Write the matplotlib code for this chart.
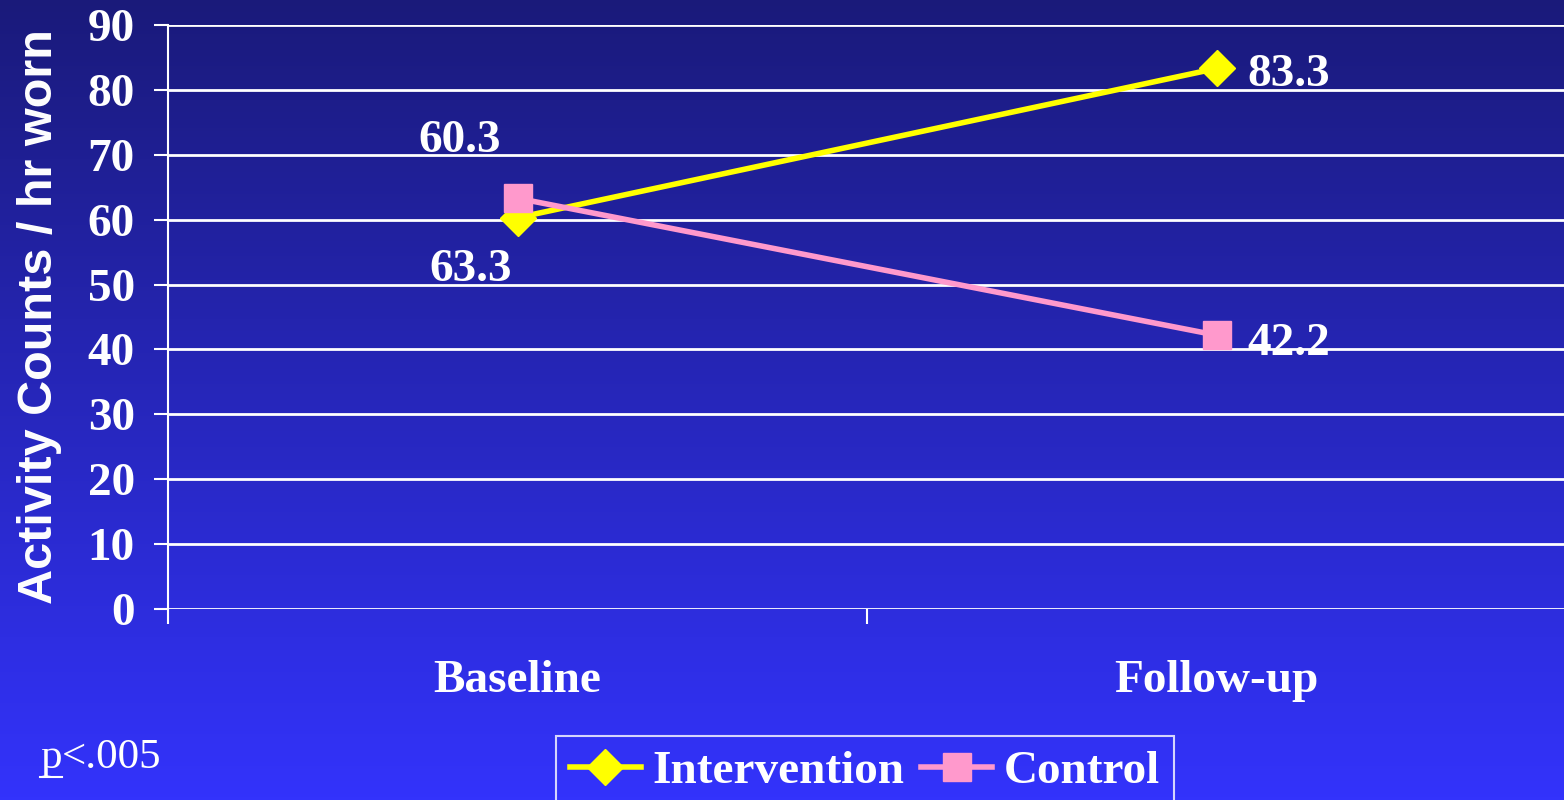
import numpy as np
import matplotlib.pyplot as plt
from matplotlib.lines import Line2D

# données : comptes d'activité par heure portée
categories = ["Baseline", "Follow-up"]
intervention = [60.3, 83.3]
controle = [63.3, 42.2]
yticks = [0, 10, 20, 30, 40, 50, 60, 70, 80, 90]

serif = "Liberation Serif"
sans = "Liberation Sans"
blanc = "white"
jaune = "#FFFF00"
rose = "#FF99CC"

fig = plt.figure(figsize=(15.64, 8), dpi=100)

# fond en dégradé vertical (bleu nuit en haut, bleu vif en bas)
fond = fig.add_axes([0, 0, 1, 1], zorder=-10)
haut = np.array([26, 26, 122]) / 255
bas = np.array([51, 51, 252]) / 255
t = np.linspace(0, 1, 256)[:, None]
grad = (haut[None, :] * (1 - t) + bas[None, :] * t)[:, None, :]
fond.imshow(grad, aspect="auto", extent=[0, 1, 0, 1])
fond.set_axis_off()

ax = fig.add_axes([168 / 1564, 1 - 609 / 800, 1398 / 1564, 584 / 800])
ax.patch.set_alpha(0)

x = np.arange(len(categories)) + 0.5
ax.plot(x, intervention, color=jaune, lw=4, marker="D", ms=18, mec=jaune,
        label="Intervention", zorder=3, clip_on=False)
ax.plot(x, controle, color=rose, lw=4, marker="s", ms=20, mec=rose,
        label="Control", zorder=4, clip_on=False)

ax.set_xlim(0, 2)
ax.set_ylim(0, 90)
ax.set_yticks(yticks)
ax.grid(axis="y", color=blanc, lw=2)
ax.set_axisbelow(True)

for s in ["top", "right", "bottom"]:
    ax.spines[s].set_visible(False)
ax.spines["left"].set_color(blanc)
ax.spines["left"].set_linewidth(1.5)

ax.tick_params(axis="y", colors=blanc, length=10, width=1.5, pad=14,
               labelsize=34)
ax.set_xticks([0, 1, 2])
ax.set_xticklabels([])
ax.tick_params(axis="x", which="major", colors=blanc, length=11, width=1.5)
ax.set_xticks(x, minor=True)
ax.set_xticklabels(categories, minor=True)
ax.tick_params(axis="x", which="minor", length=0, pad=37, labelsize=34,
               labelcolor=blanc)
for lab in ax.get_yticklabels() + ax.get_xticklabels(minor=True):
    lab.set_fontfamily(serif)
    lab.set_fontweight("bold")

ax.set_ylabel("Activity Counts / hr worn", color=blanc, fontsize=35,
              fontfamily=sans, fontweight="bold")
ax.yaxis.set_label_coords(-0.076, 0.5)

# étiquettes de valeurs
style = dict(textcoords="offset points", color=blanc, fontsize=34,
             fontfamily=serif, fontweight="bold", va="center")
ax.annotate(f"{intervention[0]:.1f}", (x[0], intervention[0]),
            xytext=(-42, 55), ha="center", **style)
ax.annotate(f"{controle[0]:.1f}", (x[0], controle[0]),
            xytext=(-34, -52), ha="center", **style)
ax.annotate(f"{intervention[1]:.1f}", (x[1], intervention[1]),
            xytext=(22, -5), ha="left", **style)
ax.annotate(f"{controle[1]:.1f}", (x[1], controle[1]),
            xytext=(22, -6), ha="left", **style)

leg = fig.legend(loc="upper center", bbox_to_anchor=(0.553, 0.08), ncol=2,
                 frameon=True, fancybox=False, handlelength=1.5,
                 handletextpad=0.25, columnspacing=0.35, borderpad=0.3,
                 borderaxespad=0,
                 prop={"family": serif, "weight": "bold", "size": 34})
leg.get_frame().set_facecolor("none")
leg.get_frame().set_edgecolor(blanc)
leg.get_frame().set_linewidth(1.5)
for txt in leg.get_texts():
    txt.set_color(blanc)

# p<.005 avec le p souligné
tp = fig.text(40 / 1564, 1 - 768 / 800, "p", color=blanc, fontsize=31,
              fontfamily=serif, va="baseline")
ax.annotate("<.005", xy=(1, 0), xycoords=tp, color=blanc, fontsize=31,
            fontfamily=serif, va="bottom", ha="left")
fig.canvas.draw()
bb = tp.get_window_extent().transformed(fig.transFigure.inverted())
y_soul = 1 - 777 / 800
fig.add_artist(Line2D([bb.x0, bb.x1], [y_soul, y_soul], color=blanc, lw=1.5,
                      transform=fig.transFigure))

fig.savefig("out.png", dpi=100)
